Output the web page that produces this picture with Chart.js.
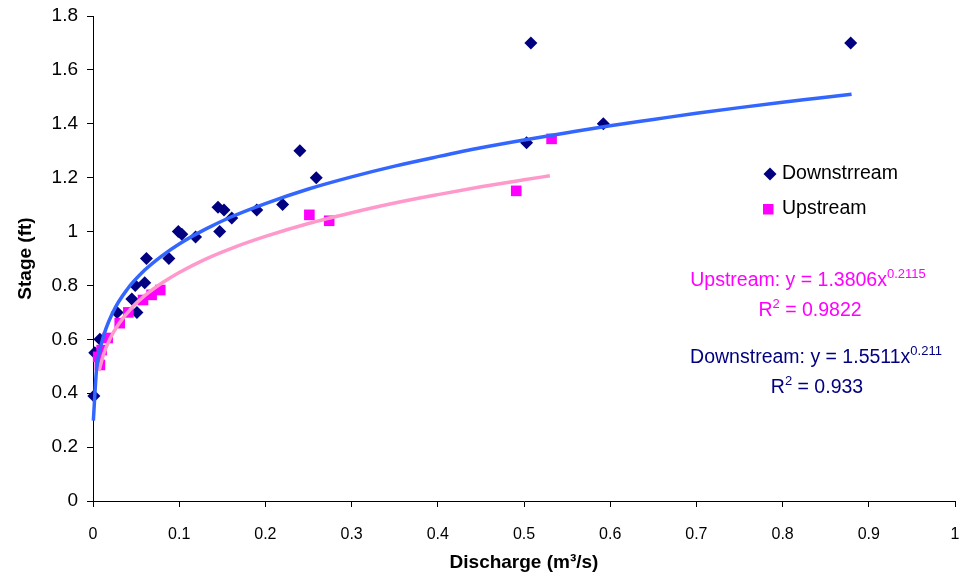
<!DOCTYPE html>
<html>
<head>
<meta charset="utf-8">
<script src="https://cdn.jsdelivr.net/npm/chart.js@4.4.1/dist/chart.umd.min.js"></script>
<style>
  body { margin: 0; background: #fff; }
  #wrap { width: 972px; height: 583px; }
</style>
</head>
<body>
<div id="wrap"><canvas id="chart"></canvas></div>
<script>
// measured points
const downX = [0.001, 0.002, 0.008, 0.028, 0.051, 0.045, 0.049, 0.060, 0.062, 0.088, 0.099, 0.103, 0.119, 0.147, 0.145, 0.152, 0.161, 0.190, 0.220, 0.240, 0.259, 0.503, 0.508, 0.592, 0.879];
const downY = [0.39, 0.55, 0.60, 0.70, 0.70, 0.75, 0.80, 0.81, 0.90, 0.90, 1.00, 0.99, 0.98, 1.00, 1.09, 1.08, 1.05, 1.08, 1.10, 1.30, 1.20, 1.33, 1.70, 1.40, 1.70];

const upX = [0.006, 0.008, 0.010, 0.017, 0.031, 0.041, 0.058, 0.068, 0.078, 0.251, 0.274, 0.491, 0.532];
const upY = [0.535, 0.505, 0.56, 0.605, 0.66, 0.70, 0.746, 0.765, 0.783, 1.062, 1.04, 1.151, 1.344];

// trendlines as drawn in the chart
const downTrendX = [0.0004, 0.004, 0.01, 0.023, 0.04, 0.06, 0.08, 0.1, 0.13, 0.16, 0.2, 0.25, 0.3, 0.35, 0.4, 0.45, 0.5, 0.55, 0.6, 0.65, 0.7, 0.75, 0.8, 0.84, 0.88];
const downTrendY = [0.298, 0.484, 0.587, 0.700, 0.787, 0.857, 0.910, 0.954, 1.008, 1.054, 1.104, 1.158, 1.203, 1.243, 1.278, 1.311, 1.340, 1.367, 1.393, 1.416, 1.439, 1.460, 1.480, 1.495, 1.510];

const upTrendX = [0.007, 0.012, 0.02, 0.03, 0.045, 0.06, 0.08, 0.1, 0.13, 0.16, 0.2, 0.25, 0.3, 0.35, 0.4, 0.45, 0.5, 0.53];
const upTrendY = [0.483, 0.542, 0.604, 0.658, 0.717, 0.762, 0.809, 0.848, 0.897, 0.937, 0.982, 1.030, 1.070, 1.106, 1.137, 1.166, 1.192, 1.207];

const xTickLabels = ['0', '0.1', '0.2', '0.3', '0.4', '0.5', '0.6', '0.7', '0.8', '0.9', '1'];
const yTickLabels = ['0', '0.2', '0.4', '0.6', '0.8', '1', '1.2', '1.4', '1.6', '1.8'];

const seriesNames = ['Downstrream', 'Upstream'];

const NAVY = '#000080';
const MAGENTA = '#FF00FF';
const FONT = '"Liberation Sans", Arial, sans-serif';

const pts = (xs, ys) => xs.map((x, i) => ({ x: x, y: ys[i] }));

const overlay = {
  id: 'overlay',
  afterDraw(chart) {
    const ctx = chart.ctx;
    ctx.save();

    // legend
    ctx.fillStyle = NAVY;
    ctx.beginPath();
    ctx.moveTo(770, 167.5); ctx.lineTo(776.5, 174); ctx.lineTo(770, 180.5); ctx.lineTo(763.5, 174);
    ctx.closePath(); ctx.fill();
    ctx.fillStyle = MAGENTA;
    ctx.fillRect(763, 204, 10.5, 10.5);

    ctx.font = '19.5px ' + FONT;
    ctx.fillStyle = '#000';
    ctx.textBaseline = 'middle';
    ctx.textAlign = 'left';
    ctx.fillText(seriesNames[0], 782, 174);
    ctx.fillText(seriesNames[1], 782, 209);

    // trendline equations
    function eq(base, sup, rest, cx, y, color) {
      ctx.fillStyle = color;
      ctx.font = '19.5px ' + FONT;
      const wb = ctx.measureText(base).width;
      const wr = ctx.measureText(rest).width;
      ctx.font = '13px ' + FONT;
      const ws = ctx.measureText(sup).width;
      let x = cx - (wb + ws + wr) / 2;
      ctx.font = '19.5px ' + FONT;
      ctx.fillText(base, x, y);
      ctx.font = '13px ' + FONT;
      ctx.fillText(sup, x + wb, y - 7);
      ctx.font = '19.5px ' + FONT;
      ctx.fillText(rest, x + wb + ws, y);
    }
    eq('Upstream: y = 1.3806x', '0.2115', '', 808, 281, MAGENTA);
    eq('R', '2', ' = 0.9822', 810, 311, MAGENTA);
    eq('Downstream: y = 1.5511x', '0.211', '', 816, 358, NAVY);
    eq('R', '2', ' = 0.933', 817, 388, NAVY);

    ctx.restore();
  }
};

new Chart(document.getElementById('chart'), {
  type: 'scatter',
  data: {
    datasets: [
      {
        label: seriesNames[0],
        data: pts(downX, downY),
        pointStyle: 'rectRot',
        pointRadius: 6.5,
        backgroundColor: NAVY,
        borderColor: NAVY,
        borderWidth: 0,
        clip: false,
        order: 3
      },
      {
        label: seriesNames[1],
        data: pts(upX, upY),
        pointStyle: 'rect',
        pointRadius: 7.5,
        backgroundColor: MAGENTA,
        borderColor: MAGENTA,
        borderWidth: 0,
        clip: false,
        order: 2
      },
      {
        label: 'Upstream trend',
        data: pts(upTrendX, upTrendY),
        showLine: true,
        pointRadius: 0,
        borderColor: '#FF99CC',
        borderWidth: 3.5,
        cubicInterpolationMode: 'monotone',
        clip: false,
        order: 1
      },
      {
        label: 'Downstream trend',
        data: pts(downTrendX, downTrendY),
        showLine: true,
        pointRadius: 0,
        borderColor: '#3366FF',
        borderWidth: 3.5,
        cubicInterpolationMode: 'monotone',
        clip: false,
        order: 0
      }
    ]
  },
  options: {
    responsive: true,
    maintainAspectRatio: false,
    devicePixelRatio: 1,
    animation: false,
    layout: { padding: { top: 16, right: 17, bottom: 0, left: 0 } },
    plugins: {
      legend: { display: false },
      tooltip: { enabled: false }
    },
    scales: {
      x: {
        type: 'linear',
        min: 0,
        max: 1,
        afterFit(s) { s.height = 82; s.paddingLeft = 0; s.paddingRight = 0; },
        ticks: {
          stepSize: 0.1,
          color: '#000',
          padding: 18,
          maxRotation: 0,
          font: { family: FONT, size: 16 },
          callback: (v, i) => xTickLabels[i]
        },
        grid: { drawOnChartArea: false, drawTicks: true, tickLength: 6, tickColor: '#000' },
        border: { display: true, color: '#000', width: 1 },
        title: {
          display: true,
          text: 'Discharge (m³/s)',
          color: '#000',
          font: { family: FONT, size: 19, weight: 'bold' },
          padding: { top: 0, bottom: 9 }
        }
      },
      y: {
        type: 'linear',
        min: 0,
        max: 1.8,
        afterFit(s) { s.width = 93; s.paddingTop = 0; s.paddingBottom = 0; },
        ticks: {
          stepSize: 0.2,
          color: '#000',
          padding: 9,
          font: { family: FONT, size: 19 },
          callback: (v, i) => yTickLabels[i]
        },
        grid: { drawOnChartArea: false, drawTicks: true, tickLength: 6, tickColor: '#000' },
        border: { display: true, color: '#000', width: 1 },
        title: {
          display: true,
          text: 'Stage (ft)',
          color: '#000',
          font: { family: FONT, size: 19, weight: 'bold' },
          padding: { top: 14, bottom: 0 }
        }
      }
    }
  },
  plugins: [overlay]
});
</script>
</body>
</html>
